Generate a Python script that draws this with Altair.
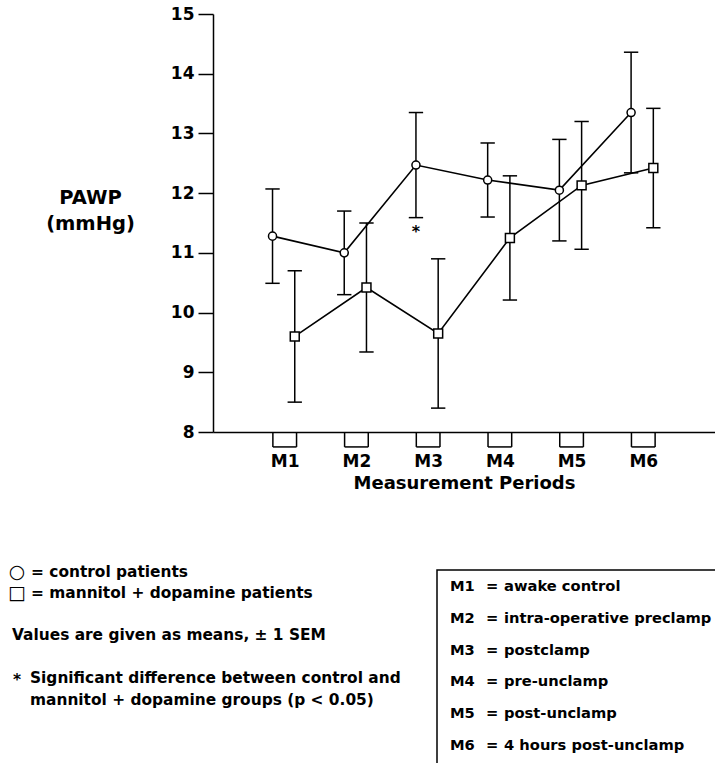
import altair as alt
import pandas as pd

# Measurement periods and PAWP means ± 1 SEM for both groups
periods = ["M1", "M2", "M3", "M4", "M5", "M6"]
control_mean = [11.28, 11.00, 12.47, 12.22, 12.05, 13.35]
control_sem = [0.79, 0.70, 0.88, 0.62, 0.85, 1.01]
mannitol_mean = [9.60, 10.42, 9.65, 11.25, 12.13, 12.42]
mannitol_sem = [1.10, 1.08, 1.25, 1.04, 1.07, 1.00]

legend_symbols = ["\u25cb", "\u25a1"]
legend_lines = [
    "= control patients",
    "= mannitol + dopamine patients",
    "Values are given as means, \u00b1 1 SEM",
]
signif_lines = [
    "Significant difference between control and",
    "mannitol + dopamine groups (p < 0.05)",
]
period_desc = [
    "awake control",
    "intra-operative preclamp",
    "postclamp",
    "pre-unclamp",
    "post-unclamp",
    "4 hours post-unclamp",
]

FONT = "DejaVu Sans"
DODGE = {"control": -0.17, "mannitol": 0.14}
CAP = 0.1

rows = []
for i in range(len(periods)):
    for grp, m, s in (("control", control_mean, control_sem),
                      ("mannitol", mannitol_mean, mannitol_sem)):
        x = i + 1 + DODGE[grp]
        rows.append(dict(group=grp, idx=i + 1, x=x, mean=m[i],
                         lo=m[i] - s[i], hi=m[i] + s[i],
                         cl=x - CAP, cr=x + CAP))
df = pd.DataFrame(rows)

br = pd.DataFrame({"idx": list(range(1, len(periods) + 1))})
br["l"] = br.idx - 0.165
br["r"] = br.idx + 0.165
br["top"] = 8.0
br["bot"] = 7.75

xs = alt.Scale(domain=[0, 7], nice=False, zero=False)
ys = alt.Scale(domain=[8, 15], nice=False, zero=False)

x_axis = alt.Axis(values=[1, 2, 3, 4, 5, 6], labelExpr="'M' + datum.value",
                  ticks=False, grid=False, domainColor="black", domainWidth=1.5,
                  labelFont=FONT, labelFontSize=17, labelFontWeight="bold",
                  labelColor="black", labelPadding=21,
                  title="Measurement Periods", titleFont=FONT, titleFontSize=18,
                  titleFontWeight="bold", titleColor="black", titlePadding=5)
y_axis = alt.Axis(values=[8, 9, 10, 11, 12, 13, 14, 15], grid=False,
                  tickSize=15, tickWidth=1.5, tickColor="black",
                  domainColor="black", domainWidth=1.5,
                  labelFont=FONT, labelFontSize=17, labelFontWeight="bold",
                  labelColor="black", labelPadding=4,
                  title=["PAWP", "(mmHg)"], titleAngle=0, titleAlign="center",
                  titleBaseline="middle", titleX=-123, titleY=183,
                  titleFont=FONT, titleFontSize=19.5, titleFontWeight="bold",
                  titleColor="black", titleLineHeight=26)


def X(field):
    return alt.X(field, scale=xs, axis=x_axis)


def Y(field):
    return alt.Y(field, scale=ys, axis=y_axis)


base = alt.Chart(df)

# error bars: stem and caps
stems = base.mark_rule(color="black", strokeWidth=1.5).encode(
    x=X("x:Q"), y=Y("lo:Q"), y2="hi:Q")
caps_hi = base.mark_rule(color="black", strokeWidth=1.5).encode(
    x=X("cl:Q"), x2="cr:Q", y=Y("hi:Q"))
caps_lo = base.mark_rule(color="black", strokeWidth=1.5).encode(
    x=X("cl:Q"), x2="cr:Q", y=Y("lo:Q"))

lines = base.mark_line(color="black", strokeWidth=1.6).encode(
    x=X("x:Q"), y=Y("mean:Q"), detail="group:N")

circles = base.transform_filter("datum.group == 'control'").mark_point(
    shape="circle", size=65, filled=True, fill="white", stroke="black",
    strokeWidth=1.5, opacity=1).encode(x=X("x:Q"), y=Y("mean:Q"))
squares = base.transform_filter("datum.group == 'mannitol'").mark_point(
    shape="square", size=80, filled=True, fill="white", stroke="black",
    strokeWidth=1.5, opacity=1).encode(x=X("x:Q"), y=Y("mean:Q"))

star = base.transform_filter("datum.group == 'control' && datum.idx == 3").mark_text(
    text="*", font=FONT, fontSize=16, fontWeight="bold", color="black",
    baseline="top", dy=6).encode(x=X("x:Q"), y=Y("lo:Q"))

# open brackets under the x axis at each period
bb = alt.Chart(br)
br_left = bb.mark_rule(color="black", strokeWidth=1.5).encode(
    x=X("l:Q"), y=Y("top:Q"), y2="bot:Q")
br_right = bb.mark_rule(color="black", strokeWidth=1.5).encode(
    x=X("r:Q"), y=Y("top:Q"), y2="bot:Q")
br_bottom = bb.mark_rule(color="black", strokeWidth=1.5).encode(
    x=X("l:Q"), x2="r:Q", y=Y("bot:Q"))

OX, OY = 213, 14  # plot origin inside the page


def note(text, px, py, size=15.4, align="left", weight="bold"):
    return alt.Chart(alt.Data(values=[{}])).mark_text(
        text=text, font=FONT, fontSize=size, fontWeight=weight, color="black",
        align=align, baseline="middle").encode(
        x=alt.value(px - OX), y=alt.value(py - OY))


notes = [
    note(legend_symbols[0], 17, 572, size=19, align="center", weight="normal"),
    note(legend_symbols[1], 17, 593, size=19, align="center", weight="normal"),
    note(legend_lines[0], 31, 572),
    note(legend_lines[1], 31, 593),
    note(legend_lines[2], 12, 635),
    note("*", 13, 680),
    note(signif_lines[0], 30, 678),
    note(signif_lines[1], 30, 700),
]

box = alt.Chart(alt.Data(values=[{}])).mark_rect(
    filled=False, stroke="black", strokeWidth=1.5).encode(
    x=alt.value(437 - OX), x2=alt.value(780 - OX),
    y=alt.value(570 - OY), y2=alt.value(830 - OY))

for k, (p, d) in enumerate(zip(periods, period_desc)):
    yy = 587 + k * 31.8
    notes.append(note(p, 450, yy, size=14.7))
    notes.append(note("=", 486, yy, size=14.7))
    notes.append(note(d, 504, yy, size=14.7))

chart = alt.layer(
    stems, caps_hi, caps_lo, lines, circles, squares, star,
    br_left, br_right, br_bottom, box, *notes
).properties(
    width=502, height=418,
    autosize=alt.AutoSizeParams(type="none"),
    padding={"left": OX, "top": OY, "right": 0, "bottom": 763 - OY - 418},
    background="white",
).configure_view(stroke=None)

chart.save("out.html", embed_options={"renderer": "svg", "actions": False})
